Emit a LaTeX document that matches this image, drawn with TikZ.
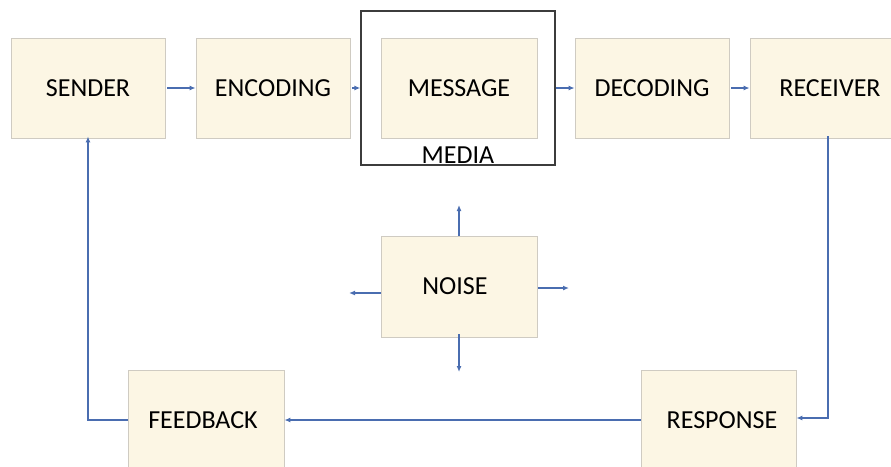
\documentclass[tikz,border=0pt]{standalone}
\usepackage{fontspec}
\setmainfont{Carlito}
\usetikzlibrary{arrows.meta}
\definecolor{boxfill}{HTML}{FCF6E4}
\definecolor{boxline}{HTML}{CFCBC2}
\definecolor{arrowblue}{HTML}{4A6DB0}
\definecolor{mediadark}{HTML}{3C3C3C}
\tikzset{
  stage/.style={draw=boxline, line width=0.8pt, fill=boxfill, minimum width=154pt,
    minimum height=100pt, inner sep=0pt, font=\fontsize{26}{31}\selectfont},
  flow/.style={draw=arrowblue, line width=1.2pt, -{Latex[length=6pt,width=5pt]}},
}
\begin{document}
\begin{tikzpicture}[x=1pt,y=-1pt]
  \useasboundingbox (0,0) rectangle (891,466);
  \clip (0,0) rectangle (891,466);
  % channel frame around the message
  \node[draw=mediadark, line width=1.3pt, minimum width=194pt, minimum height=154pt, inner sep=0pt] (media) at (458,88) {};
  \node[anchor=base, font=\fontsize{26}{31}\selectfont, inner sep=0pt] (medialabel) at (458,163) {MEDIA};
  % top row
  \node[stage] (sender) at (88,88) {SENDER};
  \node[stage] (encoding) at (273,88) {ENCODING};
  \node[stage, minimum width=156pt] (message) at (459,88) {MESSAGE};
  \node[stage] (decoding) at (652,88) {DECODING};
  \node[stage, minimum width=156pt] (receiver) at (828,88) {\hspace*{4pt}RECEIVER};
  % noise
  \node[stage, minimum width=156pt, minimum height=101pt] (noise) at (459,286.5) {\hspace*{-8pt}NOISE};
  % bottom row
  \node[stage, minimum width=156pt] (feedback) at (206,420) {\hspace*{-6pt}FEEDBACK};
  \node[stage, minimum width=155pt] (response) at (718.5,420) {\hspace*{7pt}RESPONSE};
  % free ends of the noise arrows
  \coordinate (nup) at (459,205);
  \coordinate (nleft) at (349,293);
  \coordinate (nright) at (569,288);
  \coordinate (ndown) at (459,372);
  % main flow
  \draw[flow] ([xshift=2pt]sender.east) -- (encoding.west);
  \draw[flow] ([xshift=2pt]encoding.east) -- (media.west);
  \draw[flow] (media.east) -- (decoding.west);
  \draw[flow] ([xshift=2pt]decoding.east) -- (receiver.west);
  % noise spreads in all directions
  \draw[flow] (noise.north) -- (nup);
  \draw[flow] (noise.west |- nleft) -- (nleft);
  \draw[flow] ([xshift=1pt]noise.east |- nright) -- (nright);
  \draw[flow] ([yshift=3pt]noise.south) -- (ndown);
  % response and feedback loop
  \draw[flow] ([yshift=2pt]receiver.south) |- ([yshift=2pt]response.east);
  \draw[flow] (response.west) -- (feedback.east);
  \draw[flow] (feedback.west) -| ([yshift=2pt]sender.south);
\end{tikzpicture}
\end{document}
